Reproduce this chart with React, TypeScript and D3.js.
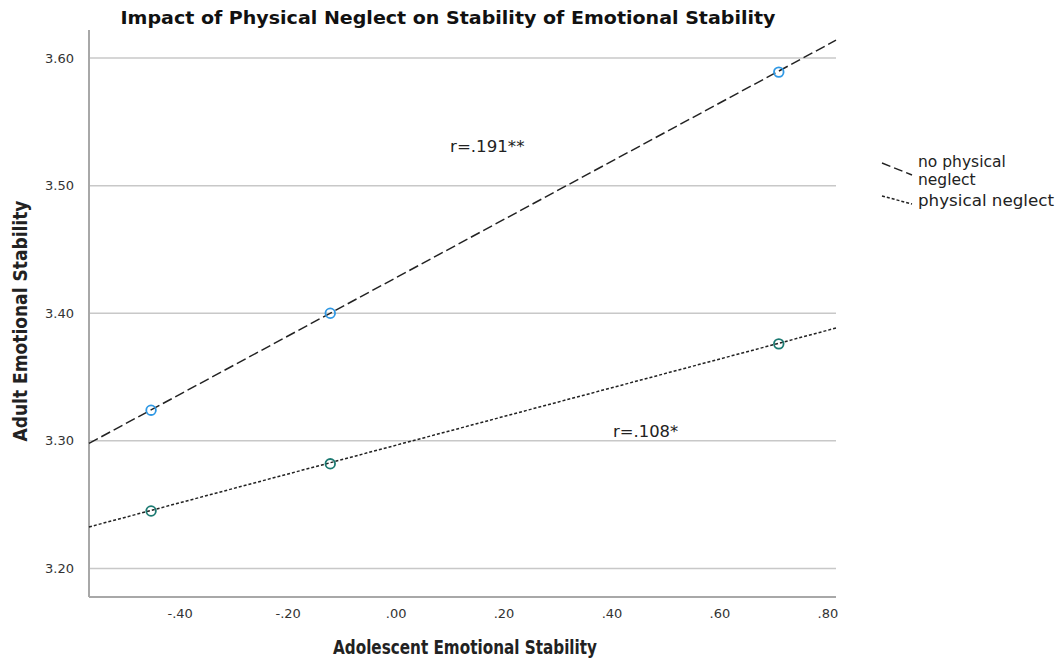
import React from "react";
import * as d3 from "d3";

const xTicks = [-0.4, -0.2, 0.0, 0.2, 0.4, 0.6, 0.8];
const yTicks = [3.2, 3.3, 3.4, 3.5, 3.6];

const groups = ["no physical neglect", "physical neglect"];
const xDomain = [-0.569, 0.815];
const yDomain = [3.1776, 3.622];

const noNeglectX = [-0.454, -0.122, 0.709];
const noNeglectY = [3.324, 3.4, 3.589];
const neglectX = [-0.454, -0.122, 0.709];
const neglectY = [3.245, 3.282, 3.376];

// fitted line endpoints (at plot x-limits)
const noNeglectFitY = [3.298, 3.614];
const neglectFitY = [3.2325, 3.3884];

const annotations = [
  { label: "r=.191**", x: 0.1, y: 3.530 },
  { label: "r=.108*", x: 0.402, y: 3.307 },
];

const fmt = (v: number) => {
  const s = Math.abs(v).toFixed(2).replace(/^0/, "");
  return (v < 0 ? "-" : "") + s;
};

export default function App() {
  const W = 1060, H = 663;
  const left = 89, right = 836, top = 30, bottom = 597;
  const x = d3.scaleLinear().domain(xDomain).range([left, right]);
  const y = d3.scaleLinear().domain(yDomain).range([bottom, top]);
  const line = d3.line<[number, number]>().x(d => x(d[0])).y(d => y(d[1]));

  const series = [
    { name: groups[0], xs: noNeglectX, ys: noNeglectY, fit: noNeglectFitY, dash: "10,4", color: "#2f98e4" },
    { name: groups[1], xs: neglectX, ys: neglectY, fit: neglectFitY, dash: "3,2", color: "#1c7a72" },
  ];
  const font = "'DejaVu Sans', 'Liberation Sans', sans-serif";

  return (
    <svg width={W} height={H} style={{ position: "absolute", left: 0, top: 0, background: "#fff" }} fontFamily={font}>
      <text x={448} y={24} textAnchor="middle" fontSize={17} fontWeight="bold" fill="#111" textLength={655} lengthAdjust="spacingAndGlyphs">
        Impact of Physical Neglect on Stability of Emotional Stability
      </text>
      {yTicks.map(t => (
        <g key={t}>
          <line x1={left} x2={right} y1={y(t)} y2={y(t)} stroke="#c8c8c8" strokeWidth={1.5} />
          <text x={74} y={y(t) + 4.5} textAnchor="end" fontSize={13} fill="#333">{t.toFixed(2)}</text>
        </g>
      ))}
      {xTicks.map(t => (
        <text key={t} x={x(t)} y={618} textAnchor="middle" fontSize={13} fill="#333">{fmt(t)}</text>
      ))}
      <line x1={left} x2={left} y1={top} y2={bottom} stroke="#a8a8a8" strokeWidth={2} />
      <line x1={left} x2={right} y1={bottom} y2={bottom} stroke="#a8a8a8" strokeWidth={2} />
      {series.map(s => (
        <g key={s.name}>
          <path d={line([[xDomain[0], s.fit[0]], [xDomain[1], s.fit[1]]]) || ""} fill="none" stroke="#222" strokeWidth={1.5} strokeDasharray={s.dash} />
          {s.xs.map((xv, i) => (
            <circle key={i} cx={x(xv)} cy={y(s.ys[i])} r={4.8} fill="none" stroke={s.color} strokeWidth={1.8} />
          ))}
        </g>
      ))}
      {annotations.map(a => (
        <text key={a.label} x={x(a.x)} y={y(a.y) + 5} fontSize={15.5} fill="#222" textLength={a.label.length * 9.3} lengthAdjust="spacingAndGlyphs">{a.label}</text>
      ))}
      <text x={465} y={654} textAnchor="middle" fontSize={19} fontWeight="bold" fill="#222" textLength={264} lengthAdjust="spacingAndGlyphs">
        Adolescent Emotional Stability
      </text>
      <text transform={`translate(27,${321}) rotate(-90)`} textAnchor="middle" fontSize={19} fontWeight="bold" fill="#222" textLength={241} lengthAdjust="spacingAndGlyphs">
        Adult Emotional Stability
      </text>
      {/* legend */}
      <line x1={882} y1={163} x2={912} y2={175} stroke="#222" strokeWidth={1.5} strokeDasharray="9,4" />
      <text x={918} y={167} fontSize={15.5} fill="#222">no physical</text>
      <text x={918} y={185} fontSize={15.5} fill="#222">neglect</text>
      <line x1={882} y1={196} x2={912} y2={204} stroke="#222" strokeWidth={1.5} strokeDasharray="3,2" />
      <text x={918} y={206} fontSize={15.5} fill="#222" textLength={136} lengthAdjust="spacingAndGlyphs">physical neglect</text>
    </svg>
  );
}
